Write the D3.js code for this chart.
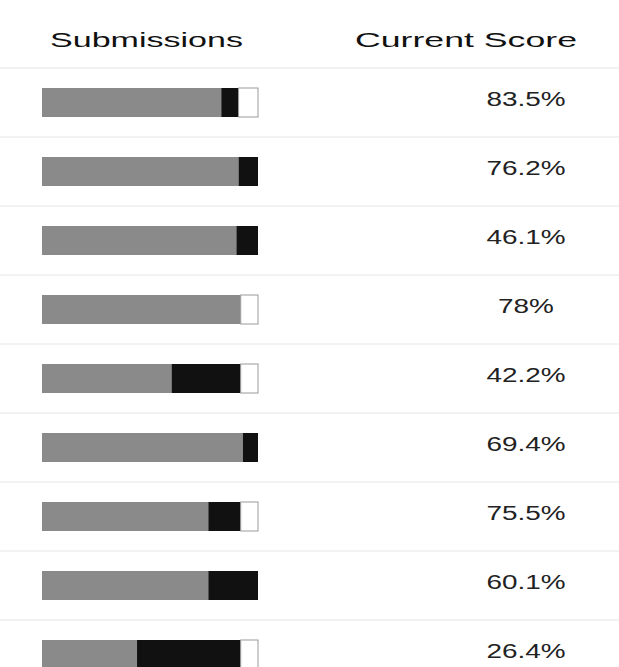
<!DOCTYPE html>
<html>
<head>
<meta charset="utf-8">
<script src="https://cdn.jsdelivr.net/npm/d3@7"></script>
<style>
  body { margin: 0; background: #fff; }
  svg text { font-family: "Liberation Sans", Arial, sans-serif; }
</style>
</head>
<body>
<div id="table-chart"></div>
<script>
// one row per assignment
const rows = ["A1", "A2", "A3", "A4", "A5", "A6", "A7", "A8", "A9"];
// submission breakdown (% of class)
const onTime = [83, 91, 90, 92, 60, 93, 77, 77, 44];
const late = [8, 9, 10, 0, 32, 7, 15, 23, 48];
const missing = [9, 0, 0, 8, 8, 0, 8, 0, 8];
const scores = ["83.5%", "76.2%", "46.1%", "78%", "42.2%", "69.4%", "75.5%", "60.1%", "26.4%"];
const headers = ["Submissions", "Current Score"];

const width = 619, height = 667;

const svg = d3.select("#table-chart")
    .append("svg")
    .attr("width", width)
    .attr("height", height);

const data = rows.map((r, i) => ({ row: r, onTime: onTime[i], late: late[i], missing: missing[i], score: scores[i] }));

const y = d3.scaleBand()
    .domain(rows)
    .range([68, 68 + rows.length * 69]);

const x = d3.scaleLinear()
    .domain([0, 100])
    .range([42, 258]);

const barH = 29;

// row separators
svg.selectAll(".sep")
    .data(rows)
    .enter()
    .append("line")
    .attr("class", "sep")
    .attr("x1", 0)
    .attr("x2", width)
    .attr("y1", d => y(d))
    .attr("y2", d => y(d))
    .attr("stroke", "#e6e6e6")
    .attr("stroke-width", 1);

// headers (wide lettering)
svg.append("text")
    .attr("x", 50)
    .attr("y", 47)
    .attr("font-size", "21px")
    .attr("fill", "#111")
    .attr("textLength", 193)
    .attr("lengthAdjust", "spacingAndGlyphs")
    .text(headers[0]);

svg.append("text")
    .attr("x", 355)
    .attr("y", 47)
    .attr("font-size", "21px")
    .attr("fill", "#111")
    .attr("textLength", 222)
    .attr("lengthAdjust", "spacingAndGlyphs")
    .text(headers[1]);

const keys = ["onTime", "late", "missing"];
const color = d3.scaleOrdinal().domain(keys).range(["#8a8a8a", "#111111", "#ffffff"]);

const stacked = d3.stack().keys(keys)(data);

svg.append("g")
    .selectAll("g")
    .data(stacked)
    .enter()
    .append("g")
    .attr("fill", d => color(d.key))
    .attr("stroke", d => d.key === "missing" ? "#9a9a9a" : "none")
    .selectAll("rect")
    .data(d => d.filter(s => s[1] > s[0]))
    .enter()
    .append("rect")
    .attr("x", d => x(d[0]))
    .attr("y", d => y(d.data.row) + (y.bandwidth() - barH) / 2)
    .attr("width", d => x(d[1]) - x(d[0]))
    .attr("height", barH);

// score column
svg.selectAll(".score")
    .data(data)
    .enter()
    .append("text")
    .attr("class", "score")
    .attr("transform", d => `translate(526,${y(d.row) + y.bandwidth() / 2 + 3}) scale(1.33,1)`)
    .attr("text-anchor", "middle")
    .attr("font-size", "21px")
    .attr("fill", "#222")
    .text(d => d.score);
</script>
</body>
</html>
